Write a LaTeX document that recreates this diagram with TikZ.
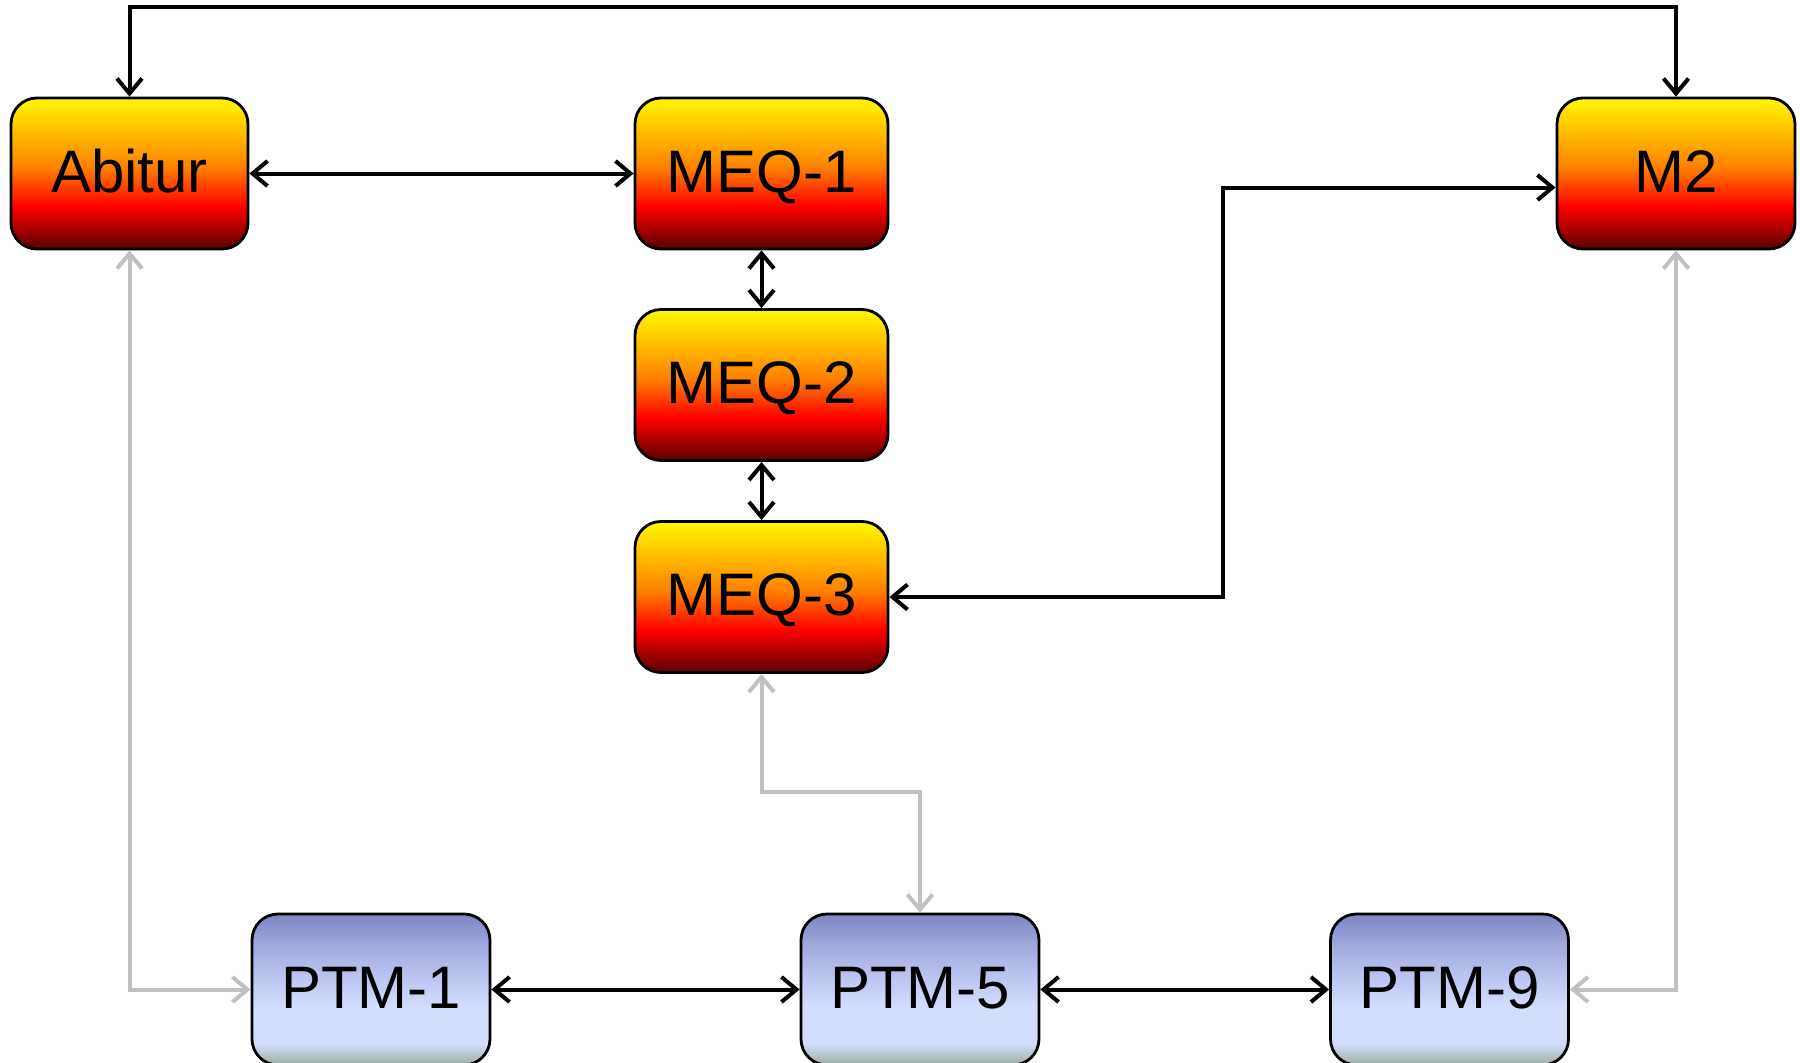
\documentclass[tikz,border=0pt]{standalone}
\usepackage{fontspec}
\setmainfont{Liberation Sans}
\usetikzlibrary{arrows.meta,calc}
\definecolor{gline}{HTML}{C0C0C0}
\pgfdeclareverticalshading{hotgrad}{100bp}{
  color(0bp)=(red!35!black);
  color(25bp)=(red!35!black);
  color(39bp)=(red);
  color(52bp)=(orange);
  color(75bp)=(yellow!95!orange);
  color(100bp)=(yellow!95!orange)}
\definecolor{ptmA}{HTML}{9CAF9E}
\definecolor{ptmB}{HTML}{D2DDFC}
\definecolor{ptmC}{HTML}{D3DEFF}
\definecolor{ptmD}{HTML}{AEB6E6}
\definecolor{ptmE}{HTML}{7F86C4}
\pgfdeclareverticalshading{ptmgrad}{100bp}{
  color(0bp)=(ptmA);
  color(25bp)=(ptmA);
  color(32bp)=(ptmB);
  color(44bp)=(ptmC);
  color(60bp)=(ptmD);
  color(75bp)=(ptmE);
  color(100bp)=(ptmE)}
\tikzset{
  boxbase/.style={draw=black, line width=2.8pt, rounded corners=26pt,
    minimum height=151pt, inner sep=0pt, text height=43pt, text depth=6pt,
    font=\fontsize{60}{72}\selectfont},
  hotbox/.style={boxbase, shading=hotgrad},
  ptmbox/.style={boxbase, shading=ptmgrad, minimum width=238pt},
  tip/.tip={Straight Barb[length=15pt,width=25pt,line width=4pt]},
  blk/.style={line width=4pt, draw=black, tip-tip},
  gry/.style={line width=4pt, draw=gline, tip-tip}
}
\begin{document}
\begin{tikzpicture}[x=1pt,y=-1pt]
\useasboundingbox (0,0) rectangle (1800,1063);
\node[hotbox, minimum width=237pt] (abitur) at (129.5,173.5) {Abitur};
\node[hotbox, minimum width=253pt] (meq1) at (761.5,173.5) {MEQ-1};
\node[hotbox, minimum width=253pt] (meq2) at (761.5,385) {MEQ-2};
\node[hotbox, minimum width=253pt] (meq3) at (761.5,597) {MEQ-3};
\node[hotbox, minimum width=238pt] (m2) at (1676,173.5) {M2};
\node[ptmbox] (ptm1) at (371,989.5) {PTM-1};
\node[ptmbox] (ptm5) at (920,989.5) {PTM-5};
\node[ptmbox] (ptm9) at (1449.5,989.5) {PTM-9};
\coordinate (topl) at (0,7);
\coordinate (jog) at (1223,0);
\coordinate (gbend) at (0,792);
\coordinate (m2in) at ([yshift=-14pt]m2.west);
% black connectors
\draw[blk] (abitur.north) -- (abitur.north |- topl) -- (m2.north |- topl) -- (m2.north);
\draw[blk] (abitur.east) -- (meq1.west);
\draw[blk] (meq1.south) -- (meq2.north);
\draw[blk] (meq2.south) -- (meq3.north);
\draw[blk] (meq3.east) -- (jog |- meq3.east) -- (jog |- m2in) -- (m2in);
\draw[blk] (ptm1.east) -- (ptm5.west);
\draw[blk] (ptm5.east) -- (ptm9.west);
% gray connectors
\draw[gry] (abitur.south) |- (ptm1.west);
\draw[gry] (m2.south) |- (ptm9.east);
\draw[gry] (meq3.south) -- (meq3.south |- gbend) -- (ptm5.north |- gbend) -- (ptm5.north);
\end{tikzpicture}
\end{document}
